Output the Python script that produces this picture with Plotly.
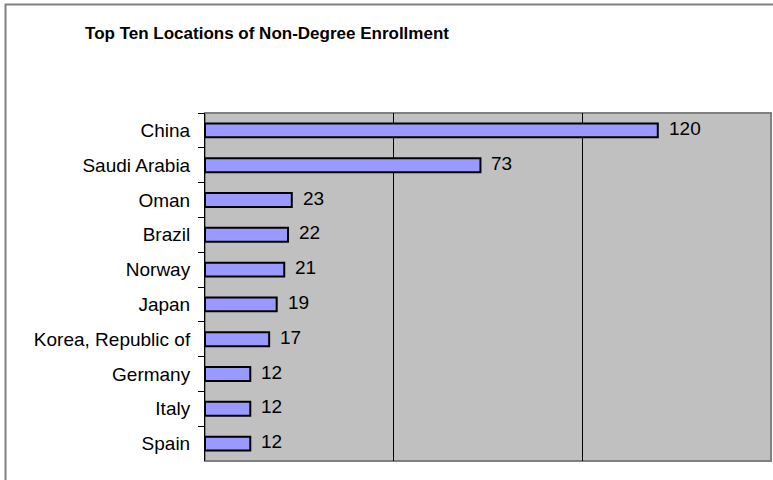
import plotly.graph_objects as go

countries = ["China", "Saudi Arabia", "Oman", "Brazil", "Norway", "Japan",
             "Korea, Republic of", "Germany", "Italy", "Spain"]
enrollment = [120, 73, 23, 22, 21, 19, 17, 12, 12, 12]

W, H = 773, 480
L, R, T, B = 205, 2, 113, 19
pw, ph = W - L - R, H - T - B
FONT = "Liberation Sans, Arial"

fig = go.Figure()
fig.add_trace(go.Bar(
    x=enrollment, y=countries, orientation="h",
    marker=dict(color="#9999FF", line=dict(color="black", width=2)),
    width=0.4, hoverinfo="x+y",
))

for c, v in zip(countries, enrollment):
    fig.add_annotation(x=v, y=c, text=str(v), showarrow=False,
                       xanchor="left", xshift=9, yshift=2,
                       font=dict(family=FONT, size=19, color="black"))

# outer chart frame
fig.add_shape(type="rect", xref="paper", yref="paper",
              x0=(5.5 - L) / pw, x1=(W + 5 - L) / pw,
              y0=-(B + 5) / ph, y1=1 + (T - 4.5) / ph,
              line=dict(color="#808080", width=2), layer="below")
# plot area frame
fig.add_shape(type="rect", xref="paper", yref="paper", x0=0, x1=1, y0=0, y1=1,
              line=dict(color="#808080", width=2), layer="below")

fig.update_layout(
    width=W, height=H,
    margin=dict(l=L, r=R, t=T, b=B),
    paper_bgcolor="white", plot_bgcolor="#C0C0C0",
    showlegend=False,
    title=dict(text="<b>Top Ten Locations of Non-Degree Enrollment</b>",
               x=267 / W, xanchor="center", y=1 - 33 / H, yanchor="middle",
               font=dict(family=FONT, size=17, color="black")),
    font=dict(family=FONT, size=19, color="black"),
)
fig.update_xaxes(range=[0, 150], dtick=50, showticklabels=False,
                 showgrid=True, gridcolor="black", gridwidth=1,
                 zeroline=False, showline=False, fixedrange=True)
fig.update_yaxes(autorange="reversed", tickson="boundaries", ticks="outside",
                 ticklen=6, tickcolor="black", showline=True, linecolor="black",
                 linewidth=1, showgrid=False, ticklabelstandoff=10,
                 tickfont=dict(size=19))

fig.write_html("out.html", config={"displayModeBar": False},
               post_script="document.body.style.margin='0';")
